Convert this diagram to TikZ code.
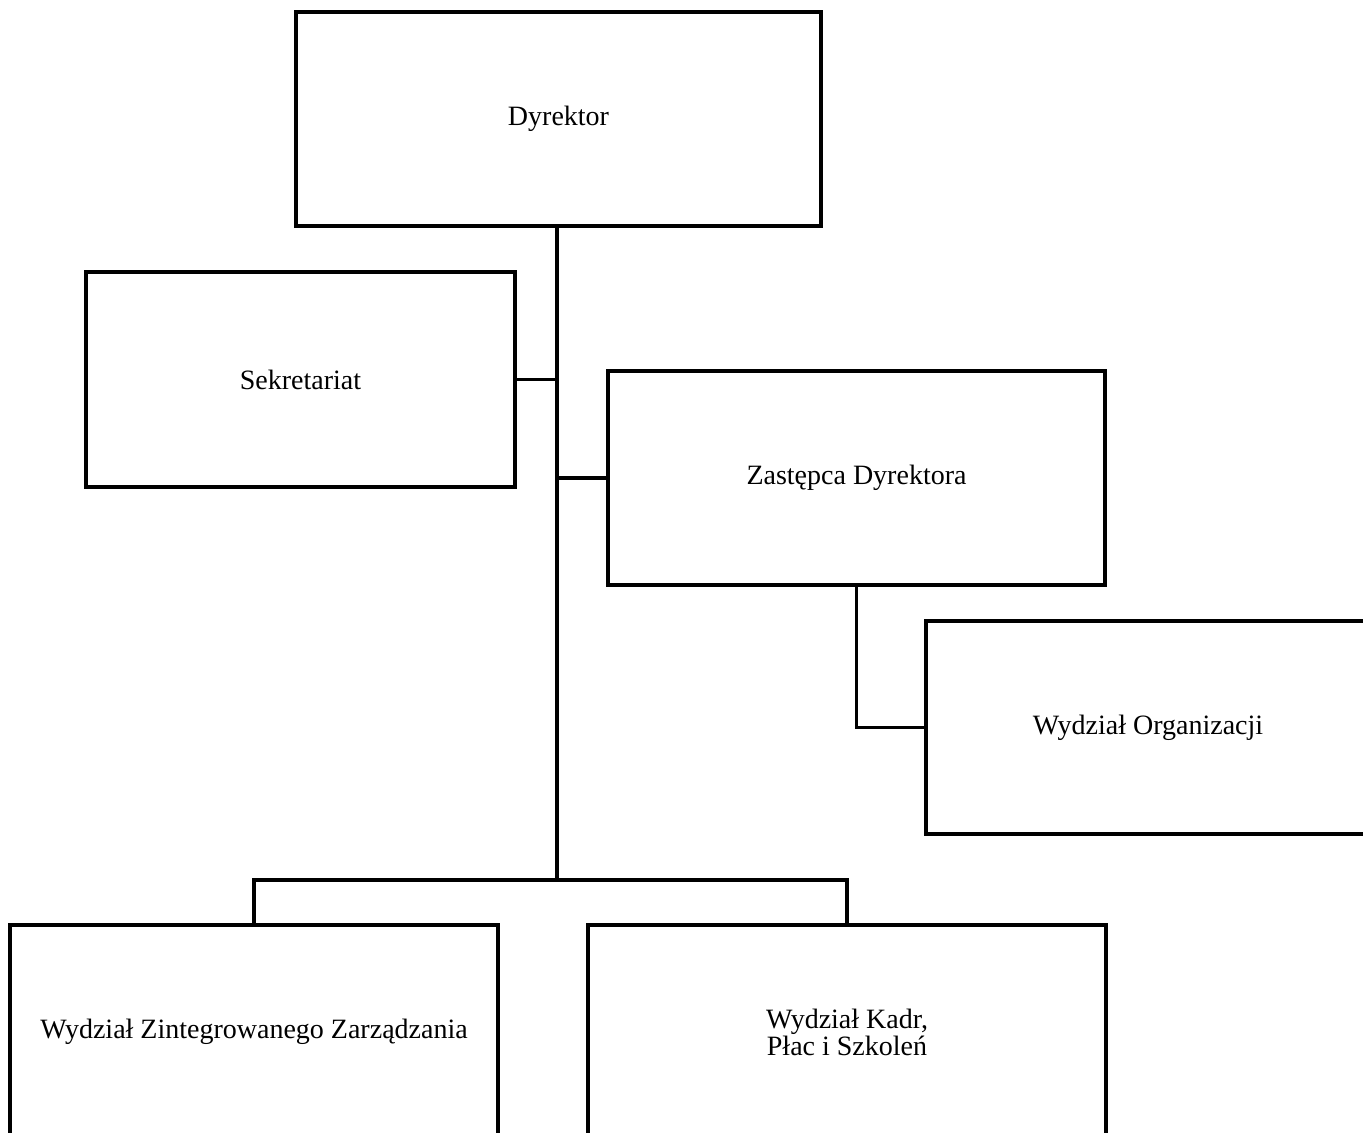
\documentclass[tikz,border=0pt]{standalone}
\usepackage{fontspec}
\setmainfont{Liberation Serif}
\begin{document}
\begin{tikzpicture}[x=0.5pt,y=-0.5pt,
  box/.style={draw, line width=1.6pt, inner sep=0pt, align=center,
    font=\fontsize{14}{13.5}\selectfont},
  conn/.style={line width=1.6pt}]
\useasboundingbox (0,0) rectangle (1363,1133);
\clip (0,0) rectangle (1363,1133);
\node[box, minimum width=262.5pt, minimum height=107pt] (dyr) at (558.5,119) {\raisebox{-1.5pt}{Dyrektor}};
\node[box, minimum width=214.5pt, minimum height=107.5pt] (sek) at (300.5,379.5) {Sekretariat};
\node[box, minimum width=248.5pt, minimum height=107pt] (zas) at (856.5,478) {\raisebox{-1.5pt}{Zastępca Dyrektora}};
\node[box, minimum width=222pt, minimum height=106.5pt] (org) at (1148,727.5) {\raisebox{-1pt}{Wydział Organizacji}};
\node[box, minimum width=244pt, minimum height=107pt] (wzz) at (254,1032) {Wydział Zintegrowanego Zarządzania};
\node[box, minimum width=259pt, minimum height=107pt] (wkp) at (847,1032) {Wydział Kadr,\\Płac i Szkoleń};
\coordinate (bus) at (557,880);
\draw[conn] (dyr.south -| bus) -- (bus);
\draw[conn] (sek.east) -- (sek.east -| bus);
\draw[conn] (zas.west) -- (zas.west -| bus);
\draw[conn] (zas.south) |- (org.west);
\draw[conn] (wzz.north) |- (bus) -| (wkp.north);
\end{tikzpicture}
\end{document}
